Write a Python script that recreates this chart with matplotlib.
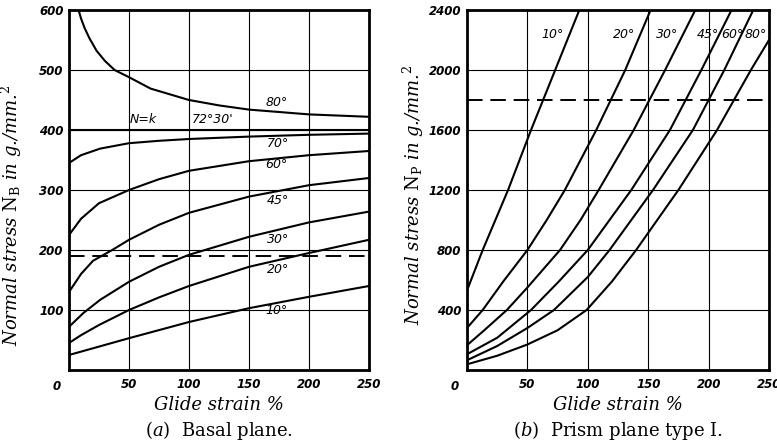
import numpy as np
import matplotlib
matplotlib.use('Agg')
import matplotlib.pyplot as plt

plt.rcParams['mathtext.fontset'] = 'dejavuserif'

# (a) basal plane, stress in g/mm^2 vs glide strain %
b80_x = [8, 10, 13, 17, 23, 30, 38, 50, 68, 100, 125, 150, 200, 250]
b80_y = [600, 586, 570, 553, 532, 515, 500, 488, 469, 450, 441, 434, 426, 422]
bnk_x = [0, 250]
bnk_y = [400, 400]
b70_x = [0, 10, 26, 50, 75, 100, 150, 200, 250]
b70_y = [345, 358, 369, 378, 382, 385, 389, 392, 394]
b60_x = [0, 10, 25, 50, 75, 100, 150, 200, 250]
b60_y = [225, 252, 278, 300, 318, 332, 348, 358, 365]
b45_x = [0, 10, 20, 36, 50, 75, 100, 150, 200, 250]
b45_y = [130, 160, 182, 200, 217, 242, 262, 289, 308, 320]
b30_x = [0, 12, 26, 50, 75, 100, 150, 200, 250]
b30_y = [72, 95, 117, 147, 172, 192, 222, 246, 264]
b20_x = [0, 10, 25, 50, 75, 100, 150, 200, 250]
b20_y = [45, 58, 75, 100, 121, 140, 172, 195, 217]
b10_x = [0, 50, 100, 150, 200, 250]
b10_y = [25, 53, 80, 103, 122, 140]
basal_dash = 190

# (b) prism plane type I
p10_x = [0, 13, 34, 53, 63, 73, 93]
p10_y = [530, 800, 1200, 1600, 1800, 2000, 2400]
p20_x = [0, 13, 30, 50, 66, 81, 107, 119, 131, 152]
p20_y = [280, 400, 590, 800, 1000, 1200, 1600, 1800, 2000, 2400]
p30_x = [0, 15, 33, 50, 77, 94, 109, 138, 151, 164, 189]
p30_y = [165, 270, 400, 550, 800, 1000, 1200, 1600, 1800, 2000, 2400]
p45_x = [0, 25, 53, 76, 100, 136, 168, 181, 194, 219]
p45_y = [105, 215, 400, 590, 800, 1200, 1600, 1800, 2000, 2400]
p60_x = [0, 25, 50, 72, 100, 118, 154, 187, 200, 213, 237]
p60_y = [65, 160, 280, 400, 620, 800, 1200, 1600, 1800, 2000, 2400]
p80_x = [0, 25, 50, 75, 99, 120, 140, 175, 207, 221, 235, 250]
p80_y = [38, 95, 170, 265, 400, 590, 800, 1200, 1600, 1800, 2000, 2200]
prism_dash = 1800

xticks = [50, 100, 150, 200, 250]
basal_yticks = [100, 200, 300, 400, 500, 600]
prism_yticks = [400, 800, 1200, 1600, 2000, 2400]

tickfont = dict(family='DejaVu Sans', style='italic', weight='bold', size=8.5)
serif = dict(family='DejaVu Serif')

fig = plt.figure(figsize=(7.77, 4.45), dpi=100)
ax1 = fig.add_axes([69/777, 75/445, 300/777, 360/445])
ax2 = fig.add_axes([467/777, 75/445, 302/777, 360/445])


def setup(ax, ymax, yticks, ylabel, ylab_x, ylab_y, caption):
    ax.set_xlim(0, 250)
    ax.set_ylim(0, ymax)
    ax.set_xticks(xticks)
    ax.set_yticks(yticks)
    ax.set_xticklabels([str(t) for t in xticks], fontdict=tickfont)
    ax.set_yticklabels([str(t) for t in yticks], fontdict=tickfont)
    ax.tick_params(length=0)
    ax.tick_params(axis='x', pad=6)
    ax.tick_params(axis='y', pad=4)
    ax.grid(True, color='k', lw=0.8)
    for s in ax.spines.values():
        s.set_linewidth(2)
    ax.annotate('0', xy=(0, 0), xytext=(-9, -7), textcoords='offset points',
                ha='center', va='top', **tickfont)
    ax.set_xlabel('Glide strain %', fontstyle='italic', fontsize=13,
                  labelpad=3, **serif)
    ax.set_ylabel(ylabel, fontstyle='italic', fontsize=13, **serif)
    ax.yaxis.set_label_coords(ylab_x, ylab_y)
    ax.text(0.5, -0.167, caption, transform=ax.transAxes, ha='center',
            va='center', fontsize=13, **serif)


setup(ax1, 600, basal_yticks, r'Normal stress $\mathrm{N}_\mathrm{B}$ in g./mm.$^2$',
      -0.15, 0.43, r'($a$)  Basal plane.')
setup(ax2, 2400, prism_yticks, r'Normal stress $\mathrm{N}_\mathrm{P}$ in g./mm.$^2$',
      -0.135, 0.486, r'($b$)  Prism plane type I.')

lw = 1.5
for xs, ys in [(b80_x, b80_y), (bnk_x, bnk_y), (b70_x, b70_y), (b60_x, b60_y),
               (b45_x, b45_y), (b30_x, b30_y), (b20_x, b20_y), (b10_x, b10_y)]:
    ax1.plot(xs, ys, color='k', lw=lw, solid_joinstyle='round')
ax1.axhline(basal_dash, color='k', lw=1.4, dashes=(8, 4))

for xs, ys in [(p10_x, p10_y), (p20_x, p20_y), (p30_x, p30_y), (p45_x, p45_y),
               (p60_x, p60_y), (p80_x, p80_y)]:
    ax2.plot(xs, ys, color='k', lw=lw, solid_joinstyle='round')
ax2.axhline(prism_dash, color='k', lw=1.4, dashes=(8, 4))

lab = dict(style='italic', size=9, family='DejaVu Sans', ha='center', va='center')
ax1.text(173, 445, '80°', **lab)
ax1.text(62, 417, 'N=k', **lab)
ax1.text(120, 417, "72°30'", **lab)
ax1.text(174, 378, '70°', **lab)
ax1.text(173, 342, '60°', **lab)
ax1.text(174, 283, '45°', **lab)
ax1.text(174, 217, '30°', **lab)
ax1.text(174, 167, '20°', **lab)
ax1.text(173, 100, '10°', **lab)

for xl, txt in [(71, '10°'), (130, '20°'), (166, '30°'), (199, '45°'),
                (220, '60°'), (239, '80°')]:
    ax2.text(xl, 2235, txt, **lab)

fig.savefig('out.png', dpi=100)
